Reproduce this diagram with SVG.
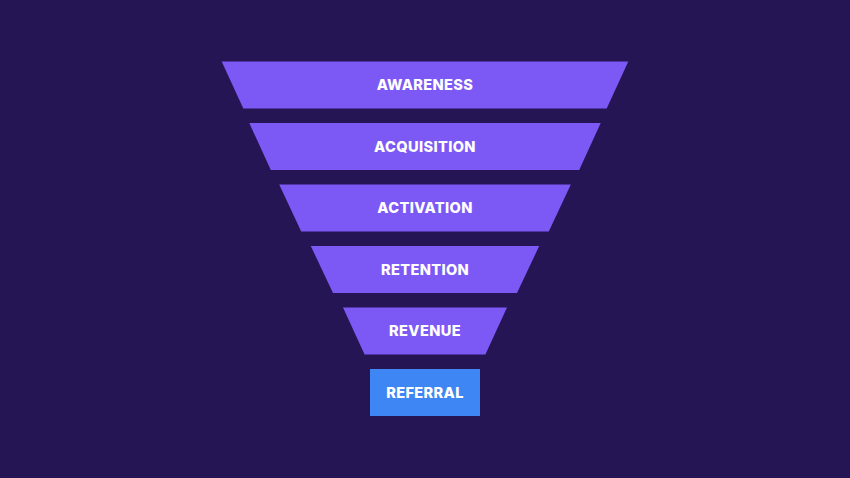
<svg xmlns="http://www.w3.org/2000/svg" width="850" height="478" viewBox="0 0 850 478">
<style>
.band{fill:#7c58f5}
.ref{fill:#3f86f5}
.lbl{font-family:Inter,"Open Sans","Liberation Sans",sans-serif;font-weight:800;font-size:14.6px;fill:#ffffff;text-anchor:middle;letter-spacing:0.35px}
</style>
<rect width="850" height="478" fill="#251555"/>
<g id="awareness"><polygon class="band" points="221.7,61.5 628.3,61.5 606.7,108.5 243.3,108.5"/><text class="lbl" x="425" y="90.3">AWARENESS</text></g>
<g id="acquisition"><polygon class="band" points="249.3,123 600.7,123 579.2,170 270.8,170"/><text class="lbl" x="425" y="151.8">ACQUISITION</text></g>
<g id="activation"><polygon class="band" points="279.2,184.5 570.8,184.5 548.8,231.5 301.2,231.5"/><text class="lbl" x="425" y="213.3">ACTIVATION</text></g>
<g id="retention"><polygon class="band" points="310.8,246 539.2,246 517,293 333,293"/><text class="lbl" x="425" y="274.8">RETENTION</text></g>
<g id="revenue"><polygon class="band" points="343,307.5 507,307.5 485.4,354.5 364.6,354.5"/><text class="lbl" x="425" y="336.3">REVENUE</text></g>
<g id="referral"><rect class="ref" x="370" y="369" width="110" height="47"/><text class="lbl" x="425" y="397.8">REFERRAL</text></g>
<g id="connectors"></g>
</svg>
